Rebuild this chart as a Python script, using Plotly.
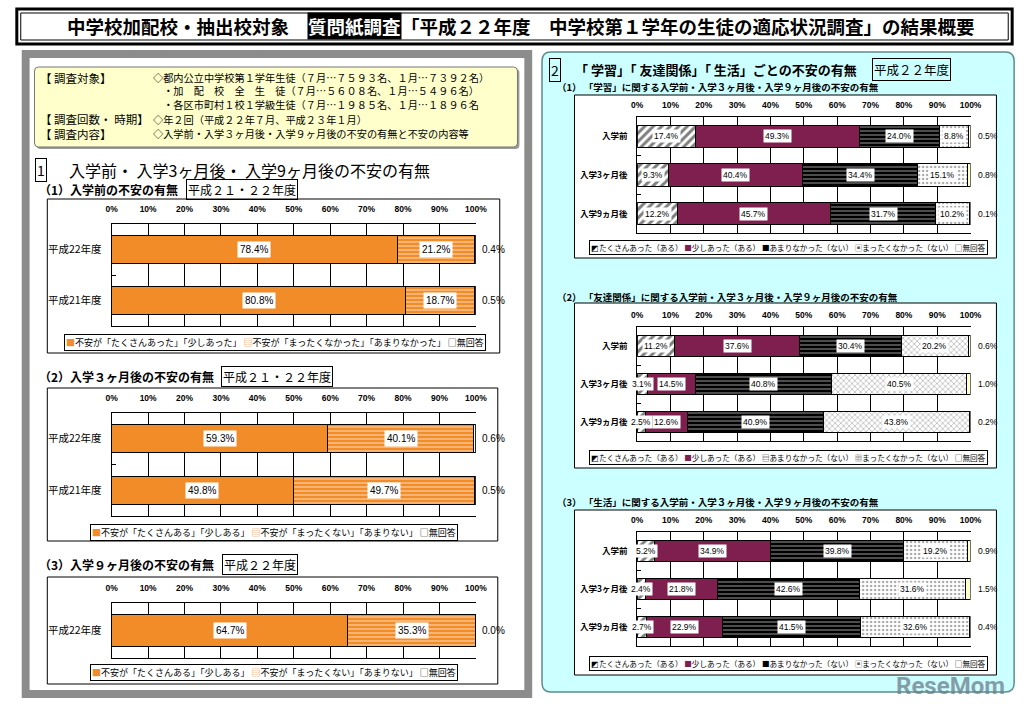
import plotly.graph_objects as go

W, H = 1033, 704
def px(x): return x / W
def py(y): return 1 - y / H

JP = "Noto Sans CJK JP"
NUM = "Liberation Sans Narrow, Liberation Sans, Arial"

# ---------------- data ----------------
TICK_VALS = [0, 10, 20, 30, 40, 50, 60, 70, 80, 90, 100]
TICK_TEXT = ["0%", "10%", "20%", "30%", "40%", "50%", "60%", "70%", "80%", "90%", "100%"]

L1_cats = ["平成22年度", "平成21年度"]
L1_anx = [78.4, 80.8]
L1_none = [21.2, 18.7]
L1_na = [0.4, 0.5]

L2_cats = ["平成22年度", "平成21年度"]
L2_anx = [59.3, 49.8]
L2_none = [40.1, 49.7]
L2_na = [0.6, 0.5]

L3_cats = ["平成22年度"]
L3_anx = [64.7]
L3_none = [35.3]
L3_na = [0.0]

R_cats = ["入学前", "入学3ヶ月後", "入学9ヵ月後"]
R1_many = [17.4, 9.3, 12.2]
R1_some = [49.3, 40.4, 45.7]
R1_few = [24.0, 34.4, 31.7]
R1_none = [8.8, 15.1, 10.2]
R1_na = [0.5, 0.8, 0.1]

R2_many = [11.2, 3.1, 2.5]
R2_some = [37.6, 14.5, 12.6]
R2_few = [30.4, 40.8, 40.9]
R2_none = [20.2, 40.5, 43.8]
R2_na = [0.6, 1.0, 0.2]

R3_many = [5.2, 2.4, 2.7]
R3_some = [34.9, 21.8, 22.9]
R3_few = [39.8, 42.6, 41.5]
R3_none = [19.2, 31.6, 32.6]
R3_na = [0.9, 1.5, 0.4]

LEG_L1 = ["不安が「たくさんあった」「少しあった」", "不安が「まったくなかった」「あまりなかった」", "無回答"]
LEG_L23 = ["不安が「たくさんある」「少しある」", "不安が「まったくない」「あまりない」", "無回答"]
LEG_R = ["たくさんあった（ある）", "少しあった（ある）", "あまりなかった（ない）", "まったくなかった（ない）", "無回答"]

# ---------------- styles ----------------
ORANGE = "#F28C28"
MAROON = "#7E1F4F"
LINE = dict(color="black", width=1)

ST_L = [
    dict(color=ORANGE, line=LINE),
    dict(color=ORANGE, line=LINE,
         pattern=dict(shape="-", bgcolor=ORANGE, fgcolor="white", size=4, solidity=0.35)),
    dict(color="white", line=LINE),
]
def st_r(dots_shape="."):
    return [
        dict(color="white", line=LINE,
             pattern=dict(shape="/", bgcolor="white", fgcolor="black", size=6, solidity=0.5)),
        dict(color=MAROON, line=LINE),
        dict(color="black", line=LINE,
             pattern=dict(shape="-", bgcolor="black", fgcolor="white", size=4, solidity=0.3)),
        dict(color="white", line=LINE,
             pattern=dict(shape=dots_shape, bgcolor="white", fgcolor="#555555", size=4, solidity=0.3)),
        dict(color="#FFFFCC", line=LINE),
    ]

SW_L = [("■", ORANGE), ("▤", ORANGE), ("□", "black")]
SW_R = [("◩", "black"), ("■", MAROON), ("■", "black"), ("▣", "#555555"), ("□", "black")]
SW_R2 = [("◩", "black"), ("■", MAROON), ("▤", "black"), ("▦", "#555555"), ("□", "black")]

# chart definitions: plot-area pixel box (x0, y0, x1, y1)
charts = [
    dict(box=(107.5, 224, 477.7, 326), cats=L1_cats, series=[L1_anx, L1_none, L1_na],
         styles=ST_L, names=LEG_L1, width=0.56, side="L", sw=SW_L, leg=(273, 342)),
    dict(box=(107.5, 413, 477.7, 516), cats=L2_cats, series=[L2_anx, L2_none, L2_na],
         styles=ST_L, names=LEG_L23, width=0.55, side="L", sw=SW_L, leg=(272, 532)),
    dict(box=(107.5, 603, 477.7, 658), cats=L3_cats, series=[L3_anx, L3_none, L3_na],
         styles=ST_L, names=LEG_L23, width=0.59, side="L", sw=SW_L, leg=(272, 672)),
    dict(box=(641.7, 117, 980.7, 233), cats=R_cats,
         series=[R1_many, R1_some, R1_few, R1_none, R1_na],
         styles=st_r("."), names=LEG_R, width=0.57, side="R", sw=SW_R, leg=(796, 247)),
    dict(box=(641.7, 327, 980.7, 441), cats=R_cats,
         series=[R2_many, R2_some, R2_few, R2_none, R2_na],
         styles=st_r("x"), names=LEG_R, width=0.57, side="R", sw=SW_R2, leg=(796, 457)),
    dict(box=(641.7, 532, 980.7, 646), cats=R_cats,
         series=[R3_many, R3_some, R3_few, R3_none, R3_na],
         styles=st_r("."), names=LEG_R, width=0.57, side="R", sw=SW_R, leg=(796, 663)),
]

fig = go.Figure()
annotations = []
layout_axes = {}

for i, ch in enumerate(charts, start=1):
    xa = "x" if i == 1 else f"x{i}"
    ya = "y" if i == 1 else f"y{i}"
    x0, y0, x1, y1 = ch["box"]
    left = ch["side"] == "L"
    lab_size = 10 if left else 8.5
    for name, vals, st in zip(ch["names"], ch["series"], ch["styles"]):
        fig.add_trace(go.Bar(x=vals, y=ch["cats"], orientation="h", name=name,
                             marker=st, width=ch["width"], xaxis=xa, yaxis=ya,
                             showlegend=False, hoverinfo="skip"))
    # value labels
    for ci, cat in enumerate(ch["cats"]):
        cum = 0.0
        n = len(ch["series"])
        for si, vals in enumerate(ch["series"]):
            v = vals[ci]
            if si < n - 1:
                annotations.append(dict(
                    x=cum + v / 2, y=cat, xref=xa, yref=ya, text=f"{v:.1f}%",
                    showarrow=False, bgcolor="white", borderpad=2 if left else 1,
                    xanchor="center", yanchor="middle",
                    font=dict(size=lab_size, family=NUM, color="black")))
            else:
                annotations.append(dict(
                    x=100, y=cat, xref=xa, yref=ya, text=f"{v:.1f}%", xanchor="left",
                    yanchor="middle", xshift=4 if left else 5, showarrow=False,
                    font=dict(size=lab_size, family=NUM, color="black")))
            cum += v
    layout_axes["xaxis" if i == 1 else f"xaxis{i}"] = dict(
        domain=[px(x0), px(x1)], range=[0, 100], side="top", anchor=ya,
        tickvals=TICK_VALS, ticktext=TICK_TEXT, showgrid=True, gridcolor="black", gridwidth=1,
        showline=True, linecolor="black", linewidth=1, mirror=True, zeroline=False, ticks="",
        tickfont=dict(size=8.5, family=NUM, color="black", weight="bold"),
        ticklabelstandoff=8 if left else 5, fixedrange=True)
    layout_axes["yaxis" if i == 1 else f"yaxis{i}"] = dict(
        domain=[py(y1), py(y0)], anchor=xa, type="category",
        categoryorder="array", categoryarray=ch["cats"], range=[len(ch["cats"]) - 0.5, -0.5],
        showline=True, linecolor="black", linewidth=1, mirror=False, showgrid=False,
        ticks="inside", tickson="boundaries", ticklen=4, tickcolor="black", tickwidth=1,
        tickfont=dict(size=10.5 if left else 8.5, family=JP, color="black",
                      weight="normal" if left else "bold"),
        ticklabelstandoff=7, fixedrange=True)
    # legend row (text with swatches)
    parts = [f"<span style='color:{c}'>{g}</span>{t}" for (g, c), t in zip(ch["sw"], ch["names"])]
    annotations.append(dict(
        x=px(ch["leg"][0]), y=py(ch["leg"][1]), xref="paper", yref="paper",
        xanchor="center", yanchor="middle",
        text=" ".join(parts), showarrow=False, bgcolor="white", bordercolor="black",
        borderwidth=1, borderpad=1,
        font=dict(size=9 if left else 7.6, family=JP, color="black")))

# ---------------- decorations ----------------
def rect(x0, y0, x1, y1, fill, line_color=None, lw=0):
    return dict(type="rect", xref="paper", yref="paper", x0=px(x0), x1=px(x1),
                y0=py(y1), y1=py(y0), fillcolor=fill, layer="below",
                line=dict(color=line_color or fill, width=lw))

def rrect(x0, y0, x1, y1, r, fill, line_color, lw):
    rx, ry = r / W, r / H
    X0, X1, Y0, Y1 = px(x0), px(x1), py(y0), py(y1)
    path = (f"M {X0+rx},{Y0} L {X1-rx},{Y0} Q {X1},{Y0} {X1},{Y0-ry} "
            f"L {X1},{Y1+ry} Q {X1},{Y1} {X1-rx},{Y1} L {X0+rx},{Y1} "
            f"Q {X0},{Y1} {X0},{Y1+ry} L {X0},{Y0-ry} Q {X0},{Y0} {X0+rx},{Y0} Z")
    return dict(type="path", xref="paper", yref="paper", path=path, fillcolor=fill,
                layer="below", line=dict(color=line_color, width=lw))

shapes = [
    rect(11, 9, 1023, 44, "white", "black", 3),
    rect(15, 13, 1019, 40, "rgba(0,0,0,0)", "black", 1),
    rect(16, 50, 535, 698, "#8C8C8C"),
    rect(24, 58, 527, 690, "white"),
    rrect(31, 69, 522, 149, 4, "#9A9A9A", "#9A9A9A", 0),
    rrect(29, 67, 520, 147, 4, "#FFFFCC", "#777777", 1),
    rect(42, 199, 502, 353, "white", "black", 1),
    rect(42, 388, 500, 541, "white", "black", 1),
    rect(42, 577, 500, 684, "white", "black", 1),
    rrect(545, 52, 1025, 692, 9, "#CCFFFF", "#5E8C8C", 1.5),
    rect(578, 95, 1007, 258, "white", "black", 1),
    rect(578, 303, 1007, 468, "white", "black", 1),
    rect(578, 510, 1007, 675, "white", "black", 1),
]

def txt(x, y, s, size, anchor="left", bold=False, **kw):
    d = dict(x=px(x), y=py(y), xref="paper", yref="paper", text=s, showarrow=False,
             xanchor=anchor, yanchor="middle",
             font=dict(size=size, family=JP, color=kw.pop("color", "black"),
                       weight="bold" if bold else "normal"))
    d.update(kw)
    return d

# title
annotations += [
    txt(290, 26, "中学校加配校・抽出校対象", 18.5, "right", True),
    txt(306, 26, "質問紙調査", 18.5, "left", True, color="white", bgcolor="black", borderpad=0),
    txt(400, 26, "「平成２２年度　中学校第１学年の生徒の適応状況調査」の結果概要", 18.5, "left", True),
]
# info box
annotations += [
    txt(33, 78, "【 調査対象】", 11.5),
    txt(147, 91, "◇都内公立中学校第１学年生徒（７月…７５９３名、１月…７３９２名）<br>"
                 "　・加　配　校　全　生　徒（７月…５６０８名、１月…５４９６名）<br>"
                 "　・各区市町村１校１学級生徒（７月…１９８５名、１月…１８９６名", 10.2, align="left"),
    txt(33, 119, "【 調査回数・ 時期】", 11.5),
    txt(147, 119, "◇年２回（平成２２年７月、平成２３年１月）", 10.2),
    txt(33, 134, "【 調査内容】", 11.5),
    txt(147, 134, "◇入学前・入学３ヶ月後・入学９ヶ月後の不安の有無と不安の内容等", 10.2),
]
# section 1
annotations += [
    txt(36, 170, "1", 14, "center", bordercolor="black", borderwidth=1, borderpad=1),
    txt(62, 170, "入学前・ 入学3ヶ月後・ 入学9ヶ月後の不安の有無", 16),
    txt(32, 189, "（1）入学前の不安の有無", 12, bold=True),
    txt(240, 189, "平成２１・２２年度", 12, "center", bordercolor="black", borderwidth=1, borderpad=1),
    txt(32, 376, "（2）入学３ヶ月後の不安の有無", 12, bold=True),
    txt(276, 376, "平成２１・２２年度", 12, "center", bordercolor="black", borderwidth=1, borderpad=1),
    txt(32, 564, "（3）入学９ヶ月後の不安の有無", 12, bold=True),
    txt(258, 564, "平成２２年度", 12, "center", bordercolor="black", borderwidth=1, borderpad=1),
]
# section 2
annotations += [
    txt(558, 70, "2", 14, "center", bordercolor="black", borderwidth=1, borderpad=1),
    txt(576, 70, "「 学習」「 友達関係」「 生活」ごとの不安の有無", 13, bold=True),
    txt(921, 70, "平成２２年度", 12.5, "center", bordercolor="black", borderwidth=1, borderpad=1),
    txt(558, 87, "（1） 「学習」に関する入学前・入学３ヶ月後・入学９ヶ月後の不安の有無", 9.5, bold=True),
    txt(558, 297, "（2） 「友達関係」に関する入学前・入学３ヶ月後・入学９ヶ月後の不安の有無", 9.5, bold=True),
    txt(558, 502, "（3） 「生活」に関する入学前・入学３ヶ月後・入学９ヶ月後の不安の有無", 9.5, bold=True),
]
# watermark
annotations.append(dict(x=px(1018), y=py(686), xref="paper", yref="paper", text="ReseMom",
                        showarrow=False, xanchor="right", yanchor="middle",
                        font=dict(size=24, family="Roboto", color="rgba(110,125,140,0.75)",
                                  weight="bold")))

fig.update_layout(
    width=W, height=H, margin=dict(l=0, r=0, t=0, b=0),
    paper_bgcolor="white", plot_bgcolor="white", barmode="stack",
    showlegend=False, shapes=shapes, annotations=annotations,
    font=dict(family=JP, color="black"), **layout_axes)

fig.write_html("out.html", config={"displayModeBar": False, "staticPlot": True},
               post_script="document.body.style.margin='0px';document.body.style.overflow='hidden';")
